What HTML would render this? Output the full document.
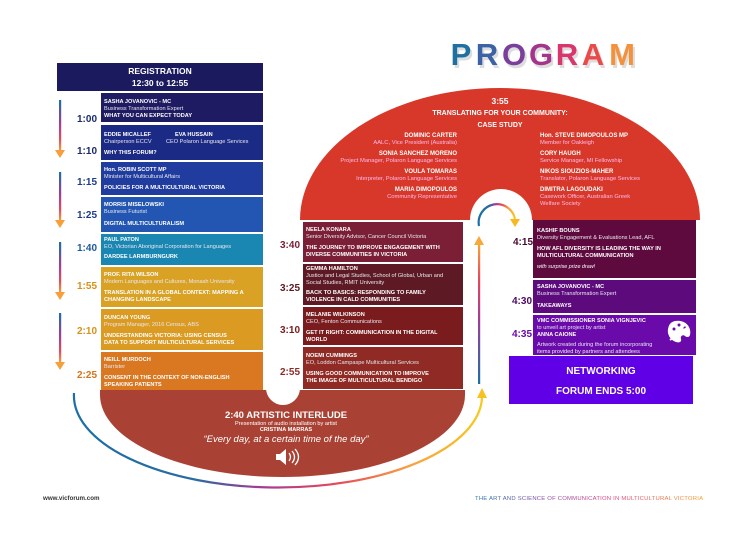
<!DOCTYPE html>
<html><head><meta charset="utf-8"><style>
html,body{margin:0;padding:0;background:#fff;}
svg{display:block;font-family:"Liberation Sans",sans-serif;}
.n{font-weight:bold;font-size:5.6px;fill:#fff;}
.s{font-size:5.6px;fill:#e8e8f0;}
.t{font-weight:bold;font-size:5.6px;fill:#fff;}
.tm{font-weight:bold;font-size:10px;text-anchor:end;}
.dn{font-weight:bold;font-size:6px;fill:#fff;}
.ds{font-size:5.8px;fill:#fbe;}
</style></head><body>
<svg width="739" height="554" viewBox="0 0 739 554" xmlns="http://www.w3.org/2000/svg">
<defs>
<linearGradient id="vg" x1="0" y1="0" x2="0" y2="1">
<stop offset="0" stop-color="#1a6fa8"/><stop offset="0.45" stop-color="#a03c96"/><stop offset="0.75" stop-color="#e8485a"/><stop offset="1" stop-color="#f8a838"/></linearGradient>
<linearGradient id="vu" x1="0" y1="1" x2="0" y2="0">
<stop offset="0" stop-color="#1a6fa8"/><stop offset="0.45" stop-color="#a03c96"/><stop offset="0.75" stop-color="#e8485a"/><stop offset="1" stop-color="#f8a838"/></linearGradient>
<linearGradient id="hg" x1="0" y1="0" x2="1" y2="0">
<stop offset="0" stop-color="#1a6fa8"/><stop offset="0.3" stop-color="#2a6aa0"/><stop offset="0.45" stop-color="#a03c96"/><stop offset="0.65" stop-color="#e8485a"/><stop offset="0.82" stop-color="#f8a040"/><stop offset="1" stop-color="#f8c820"/></linearGradient>
<linearGradient id="tg" x1="0" y1="0" x2="1" y2="0">
<stop offset="0" stop-color="#2a7ab0"/><stop offset="0.3" stop-color="#8a50a8"/><stop offset="0.6" stop-color="#e04880"/><stop offset="1" stop-color="#f8a030"/></linearGradient>
</defs>

<!-- PROGRAM title -->
<g font-weight="bold" font-size="31" text-anchor="middle">
<g fill="#ddd" transform="translate(2,3)">
<text x="461" y="65">P</text><text x="487" y="65">R</text><text x="514" y="65">O</text><text x="541" y="65">G</text><text x="567" y="65">R</text><text x="593" y="65">A</text><text x="622" y="65">M</text></g>
<text x="461" y="65" fill="#1f70a2">P</text><text x="487" y="65" fill="#3c62a6">R</text><text x="514" y="65" fill="#7a3e9c">O</text><text x="541" y="65" fill="#a4358c">G</text><text x="567" y="65" fill="#d8366c">R</text><text x="593" y="65" fill="#ea4a4a">A</text><text x="622" y="65" fill="#f4913c">M</text>
</g>

<!-- Top red dome -->
<path d="M300,220 A200,132 0 0 1 700,220 Z" fill="#d8382a"/>
<path d="M470,222 V220 A31,31 0 0 1 532,220 V222 Z" fill="#fff"/>
<g text-anchor="middle" font-weight="bold" fill="#fff">
<text x="500" y="104" font-size="8.5">3:55</text>
<text x="500" y="115" font-size="7">TRANSLATING FOR YOUR COMMUNITY:</text>
<text x="500" y="127" font-size="7">CASE STUDY</text></g>
<g text-anchor="end">
<text class="dn" x="457" y="137">DOMINIC CARTER</text><text class="ds" x="457" y="144">AALC, Vice President (Australia)</text>
<text class="dn" x="457" y="155">SONIA SANCHEZ MORENO</text><text class="ds" x="457" y="162">Project Manager, Polaron Language Services</text>
<text class="dn" x="457" y="173">VOULA TOMARAS</text><text class="ds" x="457" y="180">Interpreter, Polaron Language Services</text>
<text class="dn" x="457" y="191">MARIA DIMOPOULOS</text><text class="ds" x="457" y="198">Community Representative</text></g>
<text class="dn" x="540" y="137">Hon. STEVE DIMOPOULOS MP</text><text class="ds" x="540" y="144">Member for Oakleigh</text>
<text class="dn" x="540" y="155">CORY HAUGH</text><text class="ds" x="540" y="162">Service Manager, MI Fellowship</text>
<text class="dn" x="540" y="173">NIKOS SIOUZIOS-MAHER</text><text class="ds" x="540" y="180">Translator, Polaron Language Services</text>
<text class="dn" x="540" y="191">DIMITRA LAGOUDAKI</text><text class="ds" x="540" y="198">Casework Officer, Australian Greek</text><text class="ds" x="540" y="205">Welfare Society</text>

<!-- circular arrow in hole -->
<path d="M479,226 A18,18 0 0 1 515,219" fill="none" stroke="url(#hg)" stroke-width="2.2"/>
<path d="M510,219 L520,219 L515,227 Z" fill="#f8b820"/>

<!-- Registration -->
<rect x="57" y="63" width="206" height="28" fill="#1b1a5e"/>
<g text-anchor="middle" font-weight="bold" fill="#fff" font-size="8.5">
<text x="160" y="74">REGISTRATION</text><text x="160" y="86">12:30 to 12:55</text></g>

<!-- brown interlude -->
<path d="M100,390 H465 V395 A182.5,82 0 0 1 100,395 Z" fill="#a94234"/>
<circle cx="283" cy="388" r="17" fill="#fff"/>
<rect x="263" y="380" width="40" height="10" fill="#fff"/>
<g text-anchor="middle" fill="#fff">
<text x="286" y="418" font-weight="bold" font-size="9.5">2:40  ARTISTIC INTERLUDE</text>
<text x="286" y="425" font-size="5.6">Presentation of audio installation by artist</text>
<text x="286" y="431" font-weight="bold" font-size="5.6">CRISTINA MARRAS</text>
<text x="286" y="442" font-style="italic" font-size="9.5">“Every day, at a certain time of the day”</text></g>
<path d="M276,454 h4 l6,-5 v16 l-6,-5 h-4 Z" fill="#fff"/>
<path d="M289,453 q3,4 0,8 M292,451 q5,6 0,12 M295,449 q7,8 0,16" fill="none" stroke="#fff" stroke-width="1.3"/>

<!-- Left column boxes -->
<rect x="101" y="93" width="162" height="29" fill="#1e1b62"/>
<rect x="101" y="125" width="162" height="35" fill="#1b2a84"/>
<rect x="101" y="162" width="162" height="33" fill="#1f3c9e"/>
<rect x="101" y="197" width="162" height="35" fill="#2256b2"/>
<rect x="101" y="234" width="162" height="31" fill="#1a86b2"/>
<rect x="101" y="267" width="162" height="40" fill="#d9a224"/>
<rect x="101" y="309" width="162" height="41" fill="#db9a22"/>
<rect x="101" y="352" width="162" height="38" fill="#da7822"/>

<text class="n" x="104" y="103">SASHA JOVANOVIC - MC</text><text class="s" x="104" y="110">Business Transformation Expert</text><text class="t" x="104" y="117">WHAT YOU CAN EXPECT TODAY</text>
<text class="n" x="104" y="136">EDDIE MICALLEF</text><text class="n" x="175" y="136">EVA HUSSAIN</text>
<text class="s" x="104" y="143">Chairperson ECCV</text><text class="s" x="166" y="143">CEO Polaron Language Services</text><text class="t" x="104" y="154">WHY THIS FORUM?</text>
<text class="n" x="104" y="171">Hon. ROBIN SCOTT MP</text><text class="s" x="104" y="178">Minister for Multicultural Affairs</text><text class="t" x="104" y="189">POLICIES FOR A MULTICULTURAL VICTORIA</text>
<text class="n" x="104" y="206">MORRIS MISELOWSKI</text><text class="s" x="104" y="213">Business Futurist</text><text class="t" x="104" y="225">DIGITAL MULTICULTURALISM</text>
<text class="n" x="104" y="241">PAUL PATON</text><text class="s" x="104" y="248">EO, Victorian Aboriginal Corporation for Languages</text><text class="t" x="104" y="258">DARDEE LARMBURNGURK</text>
<text class="n" x="104" y="276">PROF. RITA WILSON</text><text class="s" x="104" y="283">Modern Languages and Cultures, Monash University</text><text class="t" x="104" y="294">TRANSLATION IN A GLOBAL CONTEXT: MAPPING A</text><text class="t" x="104" y="301">CHANGING LANDSCAPE</text>
<text class="n" x="104" y="319">DUNCAN YOUNG</text><text class="s" x="104" y="326">Program Manager, 2016 Census, ABS</text><text class="t" x="104" y="337">UNDERSTANDING VICTORIA: USING CENSUS</text><text class="t" x="104" y="344">DATA TO SUPPORT MULTICULTURAL SERVICES</text>
<text class="n" x="104" y="361">NEILL MURDOCH</text><text class="s" x="104" y="368">Barrister</text><text class="t" x="104" y="379">CONSENT IN THE CONTEXT OF NON-ENGLISH</text><text class="t" x="104" y="386">SPEAKING PATIENTS</text>

<!-- left small arrows -->
<rect x="59" y="100" width="2.2" height="52" fill="url(#vg)"/>
<rect x="59" y="172" width="2.2" height="50" fill="url(#vg)"/>
<rect x="59" y="242" width="2.2" height="52" fill="url(#vg)"/>
<rect x="59" y="313" width="2.2" height="51" fill="url(#vg)"/>
<g fill="#f7a03a">
<path d="M55,150 L65,150 L60,158 Z"/><path d="M55,220 L65,220 L60,228 Z"/>
<path d="M55,292 L65,292 L60,300 Z"/><path d="M55,362 L65,362 L60,370 Z"/></g>

<!-- bottom arc -->
<path d="M74,393 A204,92 0 0 0 482,398" fill="none" stroke="url(#hg)" stroke-width="2.2"/>
<path d="M477,398 L487,398 L482,388 Z" fill="#f8c020"/>

<!-- middle column -->
<rect x="303" y="222" width="160" height="40" fill="#7a1f35"/>
<rect x="303" y="264" width="160" height="41" fill="#5e1a24"/>
<rect x="303" y="307" width="160" height="38" fill="#7a1c1e"/>
<rect x="303" y="347" width="160" height="42" fill="#8f2a24"/>
<text class="n" x="306" y="231">NEELA KONARA</text><text class="s" x="306" y="238">Senior Diversity Advisor, Cancer Council Victoria</text><text class="t" x="306" y="249">THE JOURNEY TO IMPROVE ENGAGEMENT WITH</text><text class="t" x="306" y="256">DIVERSE COMMUNITIES IN VICTORIA</text>
<text class="n" x="306" y="270">GEMMA HAMILTON</text><text class="s" x="306" y="277">Justice and Legal Studies, School of Global, Urban and</text><text class="s" x="306" y="284">Social Studies, RMIT University</text><text class="t" x="306" y="294">BACK TO BASICS: RESPONDING TO FAMILY</text><text class="t" x="306" y="301">VIOLENCE IN CALD COMMUNITIES</text>
<text class="n" x="306" y="316">MELANIE WILKINSON</text><text class="s" x="306" y="323">CEO, Fenton Communications</text><text class="t" x="306" y="334">GET IT RIGHT: COMMUNICATION IN THE DIGITAL</text><text class="t" x="306" y="341">WORLD</text>
<text class="n" x="306" y="357">NOEMI CUMMINGS</text><text class="s" x="306" y="364">EO, Loddon Campaspe Multicultural Services</text><text class="t" x="306" y="375">USING GOOD COMMUNICATION TO IMPROVE</text><text class="t" x="306" y="382">THE IMAGE OF MULTICULTURAL BENDIGO</text>

<!-- times -->
<text class="tm" x="97" y="122" fill="#1b2a6e">1:00</text>
<text class="tm" x="97" y="154" fill="#1b2a6e">1:10</text>
<text class="tm" x="97" y="185" fill="#1e3a8e">1:15</text>
<text class="tm" x="97" y="218" fill="#1e3a8e">1:25</text>
<text class="tm" x="97" y="251" fill="#1e5a9a">1:40</text>
<text class="tm" x="97" y="289" fill="#d8901a">1:55</text>
<text class="tm" x="97" y="334" fill="#d8901a">2:10</text>
<text class="tm" x="97" y="378" fill="#d8731a">2:25</text>
<text class="tm" x="300" y="248" fill="#7a1f35">3:40</text>
<text class="tm" x="300" y="291" fill="#5e1a22">3:25</text>
<text class="tm" x="300" y="333" fill="#7a1c1e">3:10</text>
<text class="tm" x="300" y="375" fill="#8f2a24">2:55</text>
<text class="tm" x="533" y="245" fill="#4a0a30">4:15</text>
<text class="tm" x="532" y="304" fill="#4a0a60">4:30</text>
<text class="tm" x="532" y="337" fill="#6a0aa8">4:35</text>

<!-- vertical up arrow -->
<rect x="478" y="243" width="2.2" height="141" fill="url(#vu)"/>
<path d="M474,245 L484,245 L479,236 Z" fill="#f8a838"/>

<!-- right column -->
<rect x="533" y="220" width="163" height="58" fill="#5e0a3e"/>
<rect x="533" y="280" width="163" height="33" fill="#5c0a7c"/>
<rect x="533" y="315" width="163" height="40" fill="#6a0aaa"/>
<rect x="509" y="356" width="184" height="48" fill="#5f00e6"/>
<text class="n" x="537" y="232">KASHIF BOUNS</text><text class="s" x="537" y="239">Diversity Engagement &amp; Evaluations Lead, AFL</text><text class="t" x="537" y="250">HOW AFL DIVERSITY IS LEADING THE WAY IN</text><text class="t" x="537" y="257">MULTICULTURAL COMMUNICATION</text>
<text x="537" y="268" font-size="5.4" font-style="italic" fill="#fff">with surprise prize draw!</text>
<text class="n" x="537" y="288">SASHA JOVANOVIC - MC</text><text class="s" x="537" y="295">Business Transformation Expert</text><text class="t" x="537" y="307">TAKEAWAYS</text>
<text class="n" x="537" y="322">VMC COMMISSIONER SONIA VIGNJEVIC</text><text class="s" x="537" y="329">to unveil art project by artist</text><text class="n" x="537" y="336">ANNA CAIONE</text>
<text class="s" x="537" y="346">Artwork created during the forum incorporating</text><text class="s" x="537" y="353">items provided by partners and attendees</text>
<!-- palette -->
<path d="M675,321 c10,-2 17,6 15,14 c-1,3 -4,2 -5,1 c-2,-2 -5,0 -4,3 c1,3 -2,4 -5,3 c-6,-2 -9,-8 -8,-13 c1,-5 3,-7 7,-8 Z" fill="#fff"/>
<g fill="#6a0aaa"><circle cx="674" cy="329" r="1.5"/><circle cx="679" cy="325" r="1.5"/><circle cx="685" cy="328" r="1.5"/></g>
<line x1="670" y1="340" x2="688" y2="327" stroke="#fff" stroke-width="2"/>
<g text-anchor="middle" font-weight="bold" fill="#fff" font-size="10">
<text x="601" y="374">NETWORKING</text><text x="601" y="394">FORUM ENDS  5:00</text></g>

<!-- footer -->
<text x="43" y="500" font-size="6.2" font-weight="bold" fill="#333">www.vicforum.com</text>
<text x="475" y="500" font-size="5.9" fill="url(#tg)" textLength="228">THE ART AND SCIENCE OF COMMUNICATION IN MULTICULTURAL VICTORIA</text>
</svg>
</body></html>
